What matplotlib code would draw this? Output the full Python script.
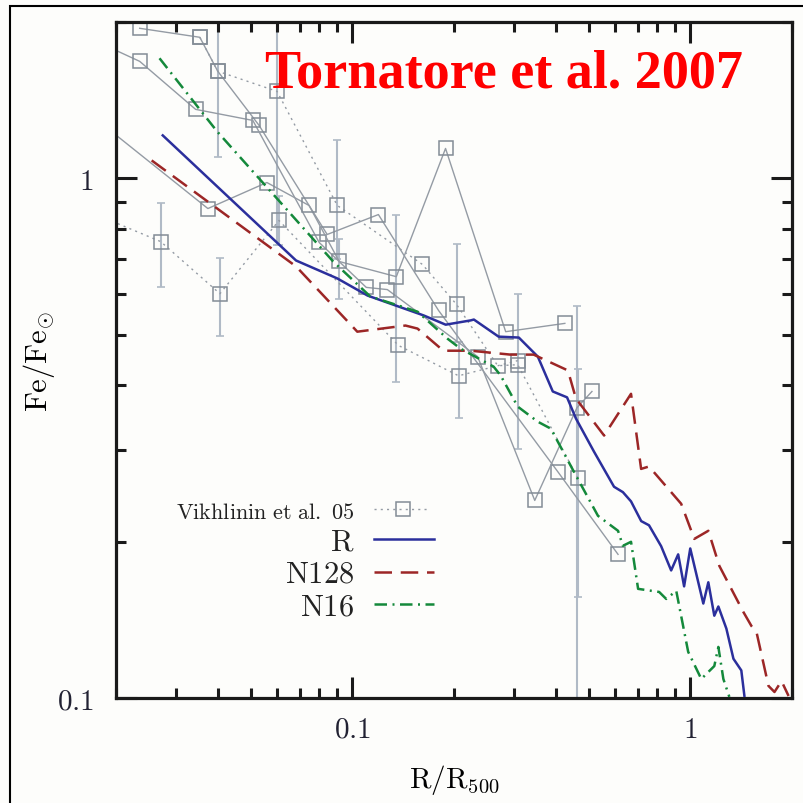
import numpy as np
import matplotlib.pyplot as plt
from matplotlib.ticker import FixedLocator, FixedFormatter, LogLocator, NullFormatter
from matplotlib.patches import Rectangle

plt.rcParams['mathtext.fontset'] = 'cm'

# simulated iron profiles (R/R500, Fe/Fe_sun)
r_x = [0.0275, 0.0682, 0.0903, 0.111, 0.1625, 0.189, 0.224, 0.229, 0.271, 0.311,
       0.354, 0.392, 0.432, 0.459, 0.519, 0.595, 0.632, 0.668, 0.716, 0.755,
       0.820, 0.878, 0.921, 0.959, 1.0, 1.093, 1.131, 1.178, 1.211, 1.279,
       1.342, 1.416, 1.446]
r_fe = [1.210, 0.695, 0.642, 0.595, 0.545, 0.523, 0.533, 0.535, 0.496, 0.494,
        0.454, 0.389, 0.379, 0.345, 0.298, 0.255, 0.249, 0.239, 0.219, 0.215,
        0.196, 0.176, 0.189, 0.164, 0.194, 0.152, 0.167, 0.144, 0.150, 0.136,
        0.119, 0.113, 0.101]

n128_x = [0.0255, 0.0682, 0.1035, 0.1437, 0.156, 0.186, 0.224, 0.294, 0.344, 0.4345,
          0.459, 0.556, 0.668, 0.7155, 0.755, 0.940, 1.028, 1.131, 1.219, 1.436,
          1.517, 1.570, 1.704, 1.775, 1.862, 1.954]
n128_fe = [1.083, 0.677, 0.507, 0.521, 0.514, 0.466, 0.466, 0.458, 0.458, 0.427,
           0.377, 0.320, 0.385, 0.276, 0.279, 0.2365, 0.2024, 0.2098, 0.1796, 0.1464,
           0.1376, 0.134, 0.1055, 0.1027, 0.1078, 0.1009]

n16_x = [0.0269, 0.0398, 0.0878, 0.1131, 0.156, 0.1913, 0.2091, 0.262, 0.2749, 0.3088,
         0.354, 0.3869, 0.4527, 0.5333, 0.6114, 0.632, 0.668, 0.701, 0.809, 0.849,
         0.909, 0.986, 1.078, 1.178, 1.211, 1.253, 1.305]
n16_fe = [1.703, 1.232, 0.692, 0.5925, 0.554, 0.4916, 0.4703, 0.4342, 0.4174, 0.3637,
          0.3402, 0.3299, 0.2725, 0.2242, 0.2098, 0.1963, 0.1998, 0.1622, 0.160, 0.1551,
          0.1608, 0.1227, 0.1088, 0.1152, 0.1254, 0.1088, 0.1005]

# Vikhlinin et al. 05 cluster profiles
obs1_x = [0.0235, 0.0354, 0.0400, 0.0530, 0.0843, 0.1195, 0.180, 0.4058, 0.6114]
obs1_fe = [1.945, 1.869, 1.608, 1.265, 0.780, 0.852, 0.557, 0.2725, 0.189]

obs2_x = [0.018, 0.0235, 0.0344, 0.0508, 0.0798, 0.110, 0.127, 0.2349, 0.3467, 0.4622, 0.5119]
obs2_fe = [1.82, 1.680, 1.358, 1.293, 0.753, 0.617, 0.611, 0.454, 0.240, 0.362, 0.389]

obs3_x = [0.018, 0.0374, 0.0559, 0.0745, 0.0915, 0.135, 0.1888, 0.2844, 0.4256]
obs3_fe = [1.28, 0.875, 0.982, 0.887, 0.692, 0.647, 1.142, 0.507, 0.526]

obs4_x = [0.018, 0.0271, 0.0406, 0.0607, 0.137, 0.2063, 0.3088]
obs4_fe = [0.845, 0.756, 0.600, 0.830, 0.477, 0.417, 0.446]

obs5_x = [0.0354, 0.0400, 0.0599, 0.0903, 0.1613, 0.2035, 0.2694, 0.3088, 0.465]
obs5_fe = [1.869, 1.608, 1.471, 0.887, 0.683, 0.572, 0.436, 0.438, 0.265]

# error bars: position, lower and upper bound
err_x = [0.0271, 0.0400, 0.0599, 0.0406, 0.0607, 0.0903, 0.0915, 0.135, 0.2035,
         0.2063, 0.3088, 0.4622, 0.465]
err_fe = [0.756, 1.608, 1.471, 0.600, 0.830, 0.887, 0.692, 0.647, 0.572,
          0.417, 0.446, 0.362, 0.265]
err_lo = [0.619, 1.098, 0.743, 0.498, 0.743, 0.701, 0.585, 0.406, 0.485,
          0.346, 0.302, 0.08, 0.1565]
err_hi = [0.895, 2.3, 2.3, 0.704, 0.923, 1.184, 0.766, 0.852, 0.749,
          0.485, 0.600, 0.569, 0.4305]

BG = '#fdfdfb'
GRAY_LINE = '#949ba4'
GRAY_SQ = '#838c96'
ERR_COL = '#b0bac6'
BLUE = '#2b2f9c'
RED = '#9c2626'
GREEN = '#14893b'

fig = plt.figure(figsize=(8.04, 8.04), dpi=100, facecolor=BG)
ax = fig.add_axes([116 / 804, 105 / 804, 676 / 804, 676 / 804], facecolor=BG)
ax.set_xscale('log')
ax.set_yscale('log')
ax.set_xlim(0.02, 2.0)
ax.set_ylim(0.1, 2.0)

# observations
err_x = np.array(err_x)
err_fe = np.array(err_fe)
yerr = [err_fe - np.array(err_lo), np.array(err_hi) - err_fe]
ax.errorbar(err_x, err_fe, yerr=yerr, fmt='none', ecolor=ERR_COL, elinewidth=1.5,
            capsize=3, capthick=1.2, zorder=1)

sq = dict(marker='s', ms=10, mfc='none', mec=GRAY_SQ, mew=1.1, color=GRAY_LINE, lw=1.0)
ax.plot(obs1_x, obs1_fe, ls='-', zorder=2, **sq)
ax.plot(obs2_x, obs2_fe, ls='-', zorder=2, **sq)
ax.plot(obs3_x, obs3_fe, ls='-', zorder=2, **sq)
ax.plot(obs4_x, obs4_fe, ls=(0, (1.5, 3)), zorder=2, **sq)
ax.plot(obs5_x, obs5_fe, ls=(0, (1.5, 3)), zorder=2, **sq)

# simulations
ax.plot(r_x, r_fe, color=BLUE, lw=1.8, zorder=4)
ax.plot(n128_x, n128_fe, color=RED, lw=1.8, ls=(0, (7, 3.5)), zorder=4)
ax.plot(n16_x, n16_fe, color=GREEN, lw=1.8, ls=(0, (5, 2.2, 0.8, 2.2)), zorder=4)

# axes styling
for sp in ax.spines.values():
    sp.set_linewidth(2.3)
    sp.set_color('#1a1a1a')
ax.tick_params(which='both', direction='in', top=True, right=True, color='#1a1a1a')
ax.tick_params(which='major', length=15, width=2.2, pad=16, labelsize=21, labelcolor='#222233')
ax.tick_params(which='minor', length=7.5, width=2.2)
ax.xaxis.set_major_locator(FixedLocator([0.1, 1.0]))
ax.xaxis.set_major_formatter(FixedFormatter([r'$\mathrm{0.1}$', r'$\mathrm{1}$']))
ax.yaxis.set_major_locator(FixedLocator([0.1, 1.0]))
ax.yaxis.set_major_formatter(FixedFormatter([r'$\mathrm{0.1}$', r'$\mathrm{1}$']))
ax.xaxis.set_minor_locator(LogLocator(base=10, subs=np.arange(2, 10)))
ax.yaxis.set_minor_locator(LogLocator(base=10, subs=np.arange(2, 10)))
ax.xaxis.set_minor_formatter(NullFormatter())
ax.yaxis.set_minor_formatter(NullFormatter())
ax.tick_params(axis='x', which='major', pad=12)

ax.set_xlabel(r'$\mathrm{R/R_{500}}$', fontsize=21, labelpad=14)
ax.set_ylabel(r'$\mathrm{Fe/Fe_{\odot}}$', fontsize=22, labelpad=0)

# key, right-aligned labels with line samples
tx = 0.352
x0, x1 = 0.382, 0.470
ax.text(tx, 0.266, r'$\mathrm{Vikhlinin\ et\ al.\ 05}$', transform=ax.transAxes,
        ha='right', va='baseline', fontsize=16, color='#222')
ax.plot([x0, 0.462], [0.2796, 0.2796], transform=ax.transAxes, color=GRAY_LINE,
        lw=1.0, ls=(0, (1.5, 3)))
ax.plot([0.425], [0.2796], transform=ax.transAxes, marker='s', ms=10, mfc='none',
        mec=GRAY_SQ, mew=1.1)
ax.text(tx, 0.219, r'$\mathrm{R}$', transform=ax.transAxes, ha='right', va='baseline',
        fontsize=22, color='#222')
ax.plot([x0, x1], [0.235, 0.235], transform=ax.transAxes, color=BLUE, lw=1.8)
ax.text(tx, 0.1716, r'$\mathrm{N128}$', transform=ax.transAxes, ha='right',
        va='baseline', fontsize=22, color='#222')
ax.plot([x0, x1], [0.186, 0.186], transform=ax.transAxes, color=RED, lw=1.8,
        ls=(0, (7, 3.5)))
ax.text(tx, 0.124, r'$\mathrm{N16}$', transform=ax.transAxes, ha='right',
        va='baseline', fontsize=22, color='#222')
ax.plot([x0, x1], [0.139, 0.139], transform=ax.transAxes, color=GREEN, lw=1.8,
        ls=(0, (5, 2.2, 0.8, 2.2)))

fig.text(265 / 804, 1 - 88 / 804, 'Tornatore et al. 2007', ha='left', va='baseline',
         fontsize=39, fontweight='bold', family='Liberation Serif', color='#ff0000')

# thin outer frame
fig.add_artist(Rectangle((10 / 804, -0.1), 1.2, 1.1 - 7 / 804, transform=fig.transFigure,
                         fill=False, ec='black', lw=1.5))

fig.savefig('out.png', dpi=100, facecolor=BG)
